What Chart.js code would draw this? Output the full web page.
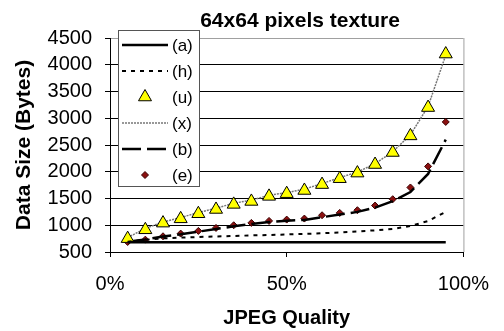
<!DOCTYPE html>
<html>
<head>
<meta charset="utf-8">
<script src="https://cdn.jsdelivr.net/npm/chart.js@4"></script>
<style>
  body { margin: 0; background: #fff; }
  #wrap { width: 504px; height: 331px; }
</style>
</head>
<body>
<div id="wrap"><canvas id="jpegChart" width="504" height="331"></canvas></div>
<script>
// JPEG quality (%) for each measured point
const quality = [5, 10, 15, 20, 25, 30, 35, 40, 45, 50, 55, 60, 65, 70, 75, 80, 85, 90, 95];

// data size in bytes, one array per method
const seriesA = [680, 680, 680, 680, 680, 680, 680, 680, 680, 680, 680, 680, 680, 680, 680, 680, 680, 680, 680];
const seriesH = [690, 730, 755, 770, 780, 790, 800, 810, 818, 828, 838, 850, 865, 885, 905, 930, 985, 1080, 1250];
const seriesU = [750, 915, 1040, 1120, 1215, 1295, 1390, 1445, 1540, 1590, 1650, 1760, 1870, 1975, 2135, 2360, 2670, 3200, 4200];
const seriesX = [770, 940, 1060, 1145, 1235, 1320, 1410, 1470, 1560, 1610, 1675, 1780, 1890, 1995, 2150, 2375, 2690, 3220, 4180];
const seriesB = [690, 735, 790, 830, 880, 930, 980, 1025, 1060, 1085, 1100, 1150, 1200, 1250, 1330, 1450, 1620, 1960, 2600];
const seriesE = [687, 731, 794, 844, 894, 950, 1000, 1044, 1081, 1106, 1125, 1187, 1231, 1281, 1368, 1487, 1706, 2100, 2931];

const seriesNames = ['(a)', '(h)', '(u)', '(x)', '(b)', '(e)'];
const xTicks = [0, 50, 100];

const FONT = '"Liberation Sans", Arial, sans-serif';

const toPoints = vals => vals.map((v, i) => ({x: quality[i], y: v}));

// title and overlapping legend box, drawn on top of the plot like the original
const overlay = {
    id: 'overlay',
    afterDraw(chart) {
        const ctx = chart.ctx;
        const area = chart.chartArea;
        ctx.save();

        // grey plot border on the right
        ctx.strokeStyle = '#a0a0a0';
        ctx.lineWidth = 1;
        ctx.beginPath();
        ctx.moveTo(area.right + 0.5, area.top);
        ctx.lineTo(area.right + 0.5, area.bottom);
        ctx.stroke();

        // title
        ctx.fillStyle = '#000';
        ctx.font = 'bold 21px ' + FONT;
        ctx.textAlign = 'center';
        ctx.textBaseline = 'alphabetic';
        ctx.fillText('64x64 pixels texture', 300, 27);

        // legend box
        const bx = 118, by = 30, bw = 81, bh = 156;
        ctx.fillStyle = '#fff';
        ctx.fillRect(bx, by, bw, bh);
        ctx.strokeStyle = '#555';
        ctx.strokeRect(bx + 0.5, by + 0.5, bw, bh);

        ctx.font = '17px ' + FONT;
        ctx.textAlign = 'left';
        ctx.textBaseline = 'middle';
        chart.data.datasets.forEach((ds, i) => {
            const y = 45 + i * 26;
            if (ds.showLine !== false) {
                ctx.save();
                ctx.strokeStyle = ds.borderColor;
                ctx.lineWidth = ds.borderWidth;
                ctx.setLineDash(ds.borderDash || []);
                ctx.beginPath();
                ctx.moveTo(122, y);
                ctx.lineTo(168, y);
                ctx.stroke();
                ctx.restore();
            } else {
                ctx.save();
                ctx.fillStyle = ds.pointBackgroundColor;
                ctx.strokeStyle = ds.pointBorderColor;
                ctx.lineWidth = ds.pointBorderWidth;
                Chart.helpers.drawPoint(ctx, {
                    pointStyle: ds.pointStyle,
                    radius: ds.pointRadius,
                    rotation: 0,
                    borderWidth: ds.pointBorderWidth
                }, 145, y);
                ctx.restore();
            }
            ctx.fillStyle = '#000';
            ctx.fillText(ds.label, 172, y + 1);
        });
        ctx.restore();
    }
};

const lineSet = (label, vals, color, width, dash) => ({
    label: label,
    data: toPoints(vals),
    borderColor: color,
    borderWidth: width,
    borderDash: dash,
    pointRadius: 0,
    fill: false,
    tension: 0
});

const markSet = (label, vals, style, radius, fillColor, edgeColor) => ({
    label: label,
    data: toPoints(vals),
    showLine: false,
    pointStyle: style,
    pointRadius: radius,
    pointBackgroundColor: fillColor,
    pointBorderColor: edgeColor,
    pointBorderWidth: 1
});

new Chart(document.getElementById('jpegChart'), {
    type: 'line',
    data: {
        datasets: [
            lineSet(seriesNames[0], seriesA, '#000', 2.5, []),
            lineSet(seriesNames[1], seriesH, '#000', 2, [4, 5]),
            markSet(seriesNames[2], seriesU, 'triangle', 7.5, '#ffff00', '#000'),
            lineSet(seriesNames[3], seriesX, '#777', 1.5, [2, 1]),
            lineSet(seriesNames[4], seriesB, '#000', 2.5, [19, 6]),
            markSet(seriesNames[5], seriesE, 'rectRot', 3.5, '#8b1010', '#3a0000')
        ]
    },
    options: {
        responsive: false,
        animation: false,
        layout: {padding: {top: 38, right: 36, left: 0, bottom: 0}},
        plugins: {
            legend: {display: false},
            tooltip: {enabled: false}
        },
        scales: {
            x: {
                type: 'linear',
                min: 0,
                max: 100,
                afterBuildTicks: scale => { scale.ticks = xTicks.map(v => ({value: v})); },
                afterFit: scale => { scale.height = 79; },
                grid: {drawOnChartArea: false, color: '#000', tickLength: 5},
                border: {color: '#000'},
                ticks: {
                    color: '#000',
                    padding: 15,
                    maxRotation: 0,
                    autoSkip: false,
                    font: {family: FONT, size: 20},
                    callback: v => v + '%'
                },
                title: {
                    display: true,
                    text: 'JPEG Quality',
                    color: '#000',
                    font: {family: FONT, size: 20, weight: 'bold'},
                    padding: {top: 0, bottom: 1}
                }
            },
            y: {
                min: 500,
                max: 4500,
                afterFit: scale => { scale.width = 110; },
                grid: {
                    color: c => (c.tick && c.tick.value === 4500) ? '#a0a0a0' : '#000',
                    tickColor: '#000',
                    tickLength: 5
                },
                border: {color: '#000'},
                ticks: {
                    stepSize: 500,
                    autoSkip: false,
                    color: '#000',
                    padding: 13,
                    font: {family: FONT, size: 20},
                    callback: v => String(v)
                },
                title: {
                    display: true,
                    text: 'Data Size (Bytes)',
                    color: '#000',
                    font: {family: FONT, size: 21, weight: 'bold'},
                    padding: {top: 12, bottom: 0}
                }
            }
        }
    },
    plugins: [overlay]
});
</script>
</body>
</html>
